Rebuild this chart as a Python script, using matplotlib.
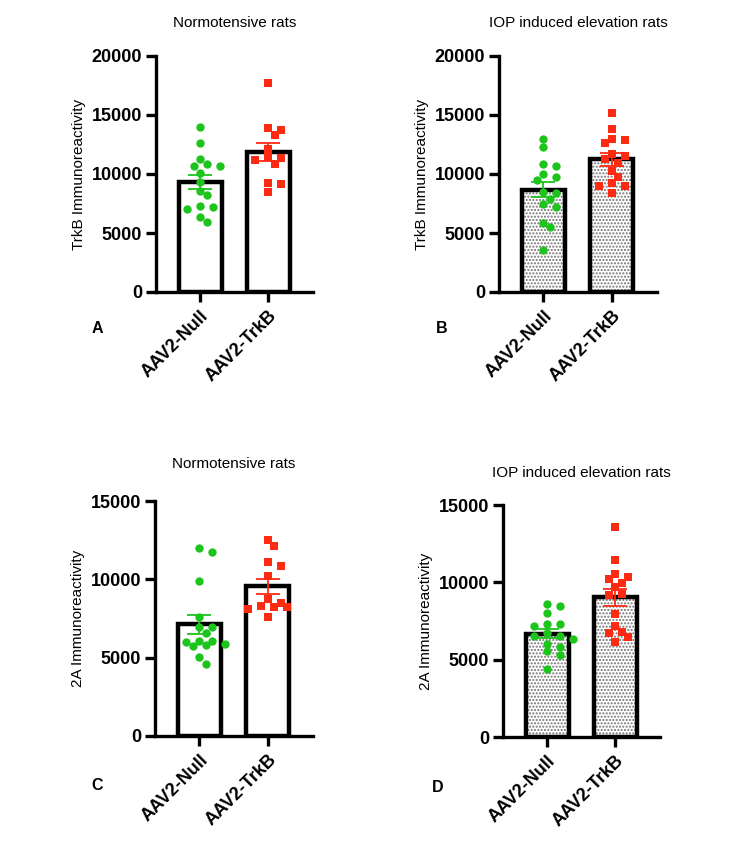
import numpy as np
import matplotlib
matplotlib.use("Agg")
from matplotlib import pyplot as plt

plt.rcParams['font.family'] = ['Liberation Sans', 'DejaVu Sans']
plt.rcParams['hatch.linewidth'] = 1.0

groups = ["AAV2-Null", "AAV2-TrkB"]

# panel A - TrkB, normotensive
a_null = [14000, 12600, 11240, 10820, 10680, 10680, 10060, 9350, 8560, 8200, 7240, 7300, 7010, 6340, 5890]
a_trkb = [17750, 13860, 13770, 13300, 12110, 11410, 11320, 11180, 10820, 9270, 9130, 8450]
# panel B - TrkB, IOP elevation
b_null = [12930, 12250, 10850, 10700, 10000, 9780, 9490, 8450, 8370, 7860, 7440, 7180, 5830, 5490, 3580]
b_trkb = [15210, 13800, 12930, 12870, 12590, 11550, 11660, 11270, 10960, 10280, 9720, 9210, 9010, 9010, 8370]
# panel C - 2A, normotensive
c_null = [12000, 11750, 9900, 7570, 6970, 6930, 6550, 6080, 6080, 5990, 5800, 5720, 5890, 5060, 4590]
c_trkb = [12500, 12130, 11110, 10860, 10200, 8520, 8730, 8310, 8240, 8120, 8240, 7570]
# panel D - 2A, IOP elevation
d_null = [8610, 8480, 8010, 7320, 7320, 7190, 6710, 6500, 6500, 6350, 6030, 5850, 5530, 5320, 4390]
d_trkb = [13600, 11450, 10540, 10370, 10220, 9980, 9680, 9250, 9190, 7960, 7190, 6800, 6710, 6460, 6150]

titles = ["Normotensive rats", "IOP induced elevation rats", "Normotensive rats", "IOP induced elevation rats"]
ylabels = ["TrkB Immunoreactivity", "TrkB Immunoreactivity", "2A Immunoreactivity", "2A Immunoreactivity"]
letters = ["A", "B", "C", "D"]

GREEN = "#1cc41c"
RED = "#ff2a12"

fig = plt.figure(figsize=(7.5, 8.51), dpi=100)
W, H = 750, 851


def px_axes(x0, x1, ytop, ybot):
    return fig.add_axes([x0 / W, 1 - ybot / H, (x1 - x0) / W, (ybot - ytop) / H])


def swarm(ax, xc, vals, diam=8.0, step=6.5):
    # simple beeswarm in pixel space
    order = np.argsort(vals)[::-1]
    placed = []
    out = {}
    for i in order:
        px, py = ax.transData.transform((xc, vals[i]))
        k = 0
        while True:
            off = ((k + 1) // 2) * step * (1 if k % 2 else -1) if k else 0
            cx = px + off
            if all((cx - qx) ** 2 + (py - qy) ** 2 >= (diam * 0.95) ** 2 for qx, qy in placed):
                break
            k += 1
        placed.append((cx, py))
        out[i] = ax.transData.inverted().transform((cx, py))[0]
    return [out[i] for i in range(len(vals))]


def panel(ax, null, trkb, ymax, hatched, title, ylabel, tpad):
    ax.set_xlim(-0.65, 1.66)
    ax.set_ylim(0, ymax)
    data = [np.array(null), np.array(trkb)]
    means = [d.mean() for d in data]
    sems = [d.std(ddof=1) / np.sqrt(len(d)) for d in data]
    x = np.arange(2)
    if hatched:
        ax.bar(x, means, width=0.63, color="white", edgecolor="#707070", hatch=".....", linewidth=0, zorder=1)
        ax.bar(x, means, width=0.63, fill=False, edgecolor="black", linewidth=3.2, zorder=2)
    else:
        ax.bar(x, means, width=0.63, color="white", edgecolor="black", linewidth=3.2, zorder=2)
    fig.canvas.draw()
    for i, (d, c, m) in enumerate(zip(data, [GREEN, RED], ["o", "s"])):
        xs = swarm(ax, i, d)
        ax.plot(xs, d, m, color=c, markersize=6.0 if m == "o" else 5.8, markeredgewidth=0, zorder=3, clip_on=False)
        ax.errorbar(i, means[i], yerr=sems[i], color=c, capsize=8.5, elinewidth=1.3, capthick=1.3, zorder=4)
    for s in ["top", "right"]:
        ax.spines[s].set_visible(False)
    for s in ["left", "bottom"]:
        ax.spines[s].set_linewidth(2.4)
    ax.set_yticks(np.arange(0, ymax + 1, 5000))
    ax.set_xticks(x)
    ax.set_xticklabels(groups, rotation=45, ha="right", rotation_mode="anchor", fontsize=13, fontweight="bold")
    ax.tick_params(axis="y", width=2.4, length=7, labelsize=13, pad=3)
    ax.tick_params(axis="x", width=2.4, length=7, pad=4)
    for t in ax.get_yticklabels():
        t.set_fontweight("bold")
    ax.set_ylabel(ylabel, fontsize=11, labelpad=4)
    ax.set_title(title, fontsize=11, pad=tpad)


axA = px_axes(156, 313, 56, 292)
axB = px_axes(499, 657, 56, 292)
axC = px_axes(155, 313, 501, 736)
axD = px_axes(503, 660, 505, 737)

panel(axA, a_null, a_trkb, 20000, False, titles[0], ylabels[0], 21)
panel(axB, b_null, b_trkb, 20000, True, titles[1], ylabels[1], 21)
panel(axC, c_null, c_trkb, 15000, False, titles[2], ylabels[2], 24)
panel(axD, d_null, d_trkb, 15000, True, titles[3], ylabels[3], 20)

for lt, (lx, ly) in zip(letters, [(97, 328), (442, 328), (97, 786), (438, 787)]):
    fig.text(lx / W, 1 - ly / H, lt, fontsize=11.5, fontweight="bold", ha="center", va="center")

fig.savefig("out.png", dpi=100)
